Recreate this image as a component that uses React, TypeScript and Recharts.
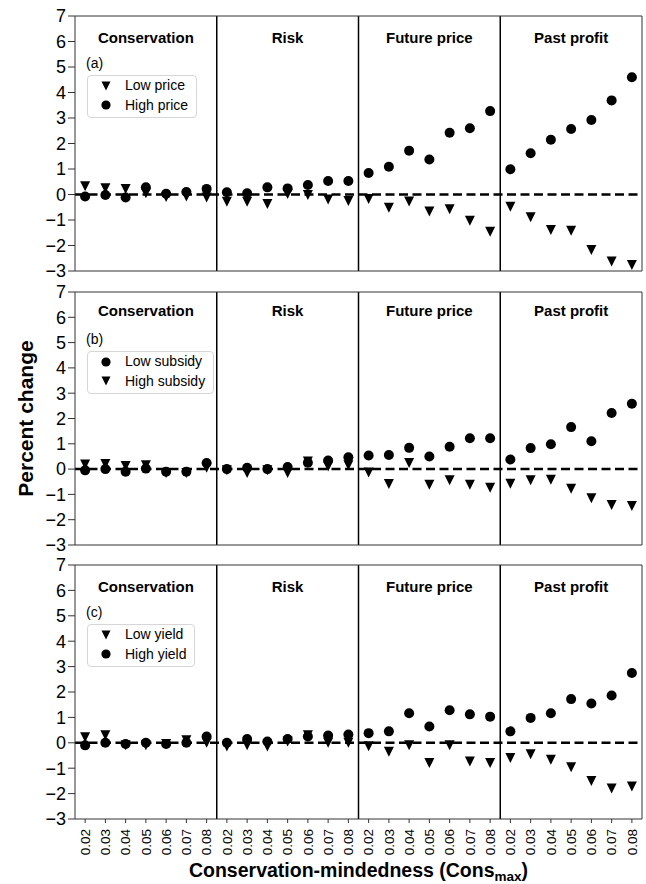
import React from 'react';
import { ScatterChart, Scatter, XAxis, YAxis, ReferenceLine, ReferenceArea, Legend } from 'recharts';

const consValues = ['0.02', '0.03', '0.04', '0.05', '0.06', '0.07', '0.08'];
const groups = ['Conservation', 'Risk', 'Future price', 'Past profit'];
const yTicks = [-3, -2, -1, 0, 1, 2, 3, 4, 5, 6, 7];

const lowPrice = [0.32, 0.25, 0.22, 0.05, -0.1, -0.08, -0.12,
  -0.28, -0.28, -0.37, 0.02, -0.02, -0.2, -0.25,
  -0.18, -0.52, -0.27, -0.67, -0.58, -1.03, -1.46,
  -0.48, -0.89, -1.39, -1.42, -2.18, -2.63, -2.76];
const highPrice = [-0.08, -0.02, -0.12, 0.28, 0.03, 0.1, 0.22,
  0.09, 0.05, 0.28, 0.24, 0.37, 0.53, 0.53,
  0.84, 1.09, 1.72, 1.37, 2.42, 2.6, 3.27,
  0.99, 1.62, 2.15, 2.57, 2.92, 3.69, 4.6];

const lowSubsidy = [-0.05, 0.0, -0.1, 0.02, -0.1, -0.1, 0.24,
  0.0, 0.05, 0.0, 0.08, 0.25, 0.34, 0.47,
  0.54, 0.56, 0.84, 0.5, 0.88, 1.22, 1.22,
  0.38, 0.83, 0.98, 1.66, 1.1, 2.22, 2.58];
const highSubsidy = [0.18, 0.2, 0.12, 0.15, -0.15, -0.15, 0.05,
  -0.05, -0.15, -0.05, -0.15, 0.3, 0.1, 0.15,
  -0.13, -0.59, 0.24, -0.62, -0.44, -0.62, -0.74,
  -0.58, -0.44, -0.42, -0.78, -1.15, -1.42, -1.46];

const lowYield = [0.22, 0.3, -0.1, -0.1, -0.05, 0.1, 0.0,
  -0.15, -0.1, -0.15, 0.05, 0.3, 0.0, 0.0,
  -0.14, -0.35, -0.1, -0.8, -0.1, -0.74, -0.8,
  -0.6, -0.45, -0.67, -0.96, -1.5, -1.8, -1.72];
const highYield = [-0.1, 0.0, -0.05, 0.0, -0.05, 0.0, 0.25,
  0.0, 0.15, 0.05, 0.15, 0.25, 0.29, 0.33,
  0.38, 0.45, 1.16, 0.64, 1.28, 1.12, 1.03,
  0.45, 0.98, 1.16, 1.72, 1.55, 1.86, 2.75];

const FONT = '"Liberation Sans", Arial, Helvetica, sans-serif';
const FRAME = '#333';
const N = consValues.length;
const xTicks = groups.flatMap((g, gi) => consValues.map((c, ci) => gi * N + ci));
const xDomain = [-0.5, groups.length * N - 0.5];
const toPoints = (vals: number[]) => vals.map((y, i) => ({ x: i, y }));
const fmtY = (v: number) => (v < 0 ? '\u2212' + Math.abs(v) : String(v));

const TriShape = (props: any) => {
  const { cx, cy } = props;
  if (cx == null || cy == null) return null;
  const w = 5, h = 5;
  return <path d={`M${cx - w},${cy - h}L${cx + w},${cy - h}L${cx},${cy + h}Z`} fill="#000" />;
};
const DotShape = (props: any) => {
  const { cx, cy } = props;
  if (cx == null || cy == null) return null;
  return <circle cx={cx} cy={cy} r={5} fill="#000" />;
};

const LegendMarker = ({ kind }: { kind: string }) => (
  <svg width={12} height={12} style={{ display: 'block' }}>
    {kind === 'tri' ? <path d="M1.5,1.5L10.5,1.5L6,10.5Z" fill="#000" /> : <circle cx={6} cy={6} r={4.6} fill="#000" />}
  </svg>
);

const LegendBox = ({ tag, series }: { tag: string; series: any[] }) => (
  <div style={{ fontFamily: FONT, fontSize: 14, color: '#000' }}>
    <div style={{ height: 18, lineHeight: '18px' }}>{tag}</div>
    <div style={{ marginTop: 3, marginLeft: 1, border: '1px solid #d6d6d6', borderRadius: 4, padding: '0 8px 2px 12px', background: '#fff', display: 'inline-block' }}>
      {series.map((s) => (
        <div key={s.name} style={{ display: 'flex', alignItems: 'center', height: 19.5 }}>
          <LegendMarker kind={s.kind} />
          <span style={{ marginLeft: 13, whiteSpace: 'nowrap', lineHeight: '19.5px' }}>{s.name}</span>
        </div>
      ))}
    </div>
  </div>
);

const RotTick = (props: any) => {
  const { x, y, payload } = props;
  const label = consValues[payload.value % N];
  return (
    <text x={x} y={y} transform={`rotate(-90, ${x}, ${y})`} textAnchor="end" dy="0.36em" fontSize={13.5} fontFamily={FONT} fill="#000">
      {label}
    </text>
  );
};

const panels = [
  { tag: '(a)', top: 0, topAxisH: 16, plotH: 255, bottomAxisH: 5, topTicks: true, labels: false, titleOffset: 16,
    series: [{ name: 'Low price', kind: 'tri', data: lowPrice }, { name: 'High price', kind: 'dot', data: highPrice }] },
  { tag: '(b)', top: 276, topAxisH: 16, plotH: 253, bottomAxisH: 8, topTicks: false, labels: false, titleOffset: 13.5, yTitle: true,
    series: [{ name: 'Low subsidy', kind: 'dot', data: lowSubsidy }, { name: 'High subsidy', kind: 'tri', data: highSubsidy }] },
  { tag: '(c)', top: 553, topAxisH: 12, plotH: 254, bottomAxisH: 65, topTicks: false, labels: true, titleOffset: 16.5, xTitle: true,
    series: [{ name: 'Low yield', kind: 'tri', data: lowYield }, { name: 'High yield', kind: 'dot', data: highYield }] },
];

const W = 646;
const LEFT = 75;
const RIGHT_M = 4;

function Panel({ p }: { p: any }) {
  const height = p.topAxisH + p.plotH + p.bottomAxisH;
  const plotCenterX = LEFT + (W - LEFT - RIGHT_M) / 2;
  const yTitle = () => (
    <text x={25} y={p.topAxisH + p.plotH / 2} transform={`rotate(-90, 25, ${p.topAxisH + p.plotH / 2})`} textAnchor="middle" dominantBaseline="central"
      fontSize={21} fontWeight="bold" fontFamily={FONT} fill="#000">Percent change</text>
  );
  const xTitle = () => (
    <text x={plotCenterX} y={height - 7} textAnchor="middle" fontSize={19.5} fontWeight="bold" fontFamily={FONT} fill="#000">
      <tspan>Conservation-mindedness (Cons</tspan>
      <tspan fontSize={13.5} dy={4}>max</tspan>
      <tspan dy={-4}>)</tspan>
    </text>
  );
  return (
    <div style={{ position: 'absolute', left: 0, top: p.top, width: W, height }}>
      <ScatterChart width={W} height={height} margin={{ top: 0, right: RIGHT_M, bottom: 0, left: 0 }}>
        <XAxis xAxisId="top" orientation="top" type="number" dataKey="x" domain={xDomain} ticks={xTicks} interval={0}
          height={p.topAxisH} tick={false} tickSize={4} tickLine={p.topTicks ? { stroke: FRAME } : false}
          axisLine={{ stroke: FRAME }} />
        <XAxis type="number" dataKey="x" domain={xDomain} ticks={xTicks} interval={0} height={p.bottomAxisH}
          tick={p.labels ? <RotTick /> : false} tickSize={4} tickMargin={6} tickLine={{ stroke: FRAME }} axisLine={{ stroke: FRAME }}
          label={p.xTitle ? xTitle : undefined} />
        <YAxis type="number" dataKey="y" domain={[-3, 7]} ticks={yTicks} interval={0} width={LEFT} tickFormatter={fmtY}
          tick={{ fontSize: 18, fill: '#000', fontFamily: FONT }} tickSize={7} tickMargin={2}
          tickLine={{ stroke: FRAME }} axisLine={{ stroke: FRAME }} label={p.yTitle ? yTitle : undefined} />
        <ReferenceLine x={xDomain[1]} stroke={FRAME} strokeWidth={1} />
        {groups.map((g, gi) => (
          <ReferenceArea key={g} x1={gi * N - 0.5} x2={gi * N + N - 0.5} y1={-3} y2={7} fill="#fff" fillOpacity={0} stroke="none"
            label={{ value: g, position: 'insideTop', offset: p.titleOffset, fontSize: 15, fontWeight: 'bold', fill: '#000', fontFamily: FONT }} />
        ))}
        {groups.slice(1).map((g, gi) => (
          <ReferenceLine key={'sep' + g} x={(gi + 1) * N - 0.5} stroke="#000" strokeWidth={1.5} />
        ))}
        <ReferenceLine y={0} stroke="#000" strokeWidth={2.5} strokeDasharray="9 4.5" />
        {p.series.map((s: any) => (
          <Scatter key={s.name} name={s.name} data={toPoints(s.data)} fill="#000" shape={s.kind === 'tri' ? TriShape : DotShape}
            isAnimationActive={false} />
        ))}
        <Legend layout="vertical" align="center" verticalAlign="middle"
          wrapperStyle={{ left: 86, top: p.topAxisH + 38, width: 'auto', height: 'auto' }}
          content={() => <LegendBox tag={p.tag} series={p.series} />} />
      </ScatterChart>
    </div>
  );
}

export default function App() {
  return (
    <div style={{ position: 'absolute', left: 0, top: 0, width: W, height: 884, background: '#fff', fontFamily: FONT, overflow: 'hidden' }}>
      <style>{`.recharts-surface{overflow:visible}`}</style>
      {panels.map((p) => <Panel key={p.tag} p={p} />)}
    </div>
  );
}
